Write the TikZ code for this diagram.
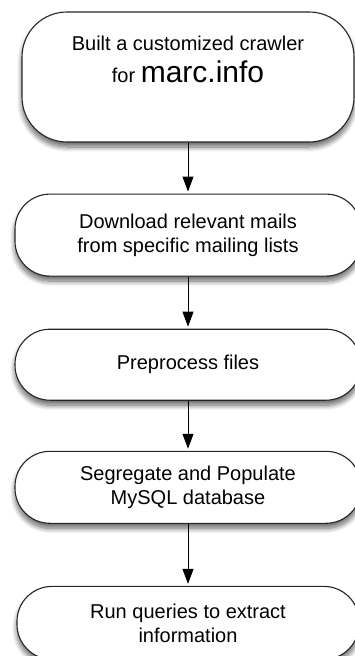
\documentclass[tikz,border=0pt]{standalone}
\usepackage{fontspec}
\setmainfont{Liberation Sans}
\usetikzlibrary{arrows.meta,positioning,shadows.blur}
\tikzset{
  basebox/.style={rectangle,draw=black!85,line width=1.1pt,fill=white,
                  align=center,font=\fontsize{20}{24}\selectfont,
                  blur shadow={shadow xshift=0pt,shadow yshift=-5pt,
                               shadow blur radius=5pt,
                               shadow blur steps=10,shadow opacity=60}},
  topbox/.style={basebox,minimum width=332pt,minimum height=130pt,
                 rounded corners=45pt},
  stepbox/.style={basebox,minimum width=346pt,rounded corners=35pt},
  arr/.style={-{Triangle[width=11pt,length=15pt]},line width=1pt,
              color=black,shorten >=2pt}
}
\begin{document}
\begin{tikzpicture}[x=1pt,y=1pt]
  \useasboundingbox (0,0) rectangle (355,-656);
  \clip (0,0) rectangle (355,-656);

  \node[topbox] (crawl) at (188,-77) {};
  \node[font=\fontsize{20}{24}\selectfont,align=center,inner sep=0pt]
      (crawltxt) at (188,-59)
      {Built a customized crawler\\[8pt]
       for {\fontsize{30}{30}\selectfont marc.info}};

  \node[stepbox,minimum height=82pt,below=51pt of crawl] (mails)
      {Download relevant mails\\from specific mailing lists};
  \node[stepbox,minimum height=71pt,below=52pt of mails] (prep)
      {Preprocess files};
  \node[stepbox,minimum height=72pt,below=50pt of prep] (mysql)
      {Segregate and Populate\\MySQL database};
  \node[stepbox,minimum height=73pt,below=62pt of mysql,
        minimum width=342pt] (query)
      {Run queries to extract\\information};

  \draw[arr] (crawl) -- (mails);
  \draw[arr] (mails) -- (prep);
  \draw[arr] (prep) -- (mysql);
  \draw[arr] (mysql) -- (query);

\end{tikzpicture}
\end{document}
